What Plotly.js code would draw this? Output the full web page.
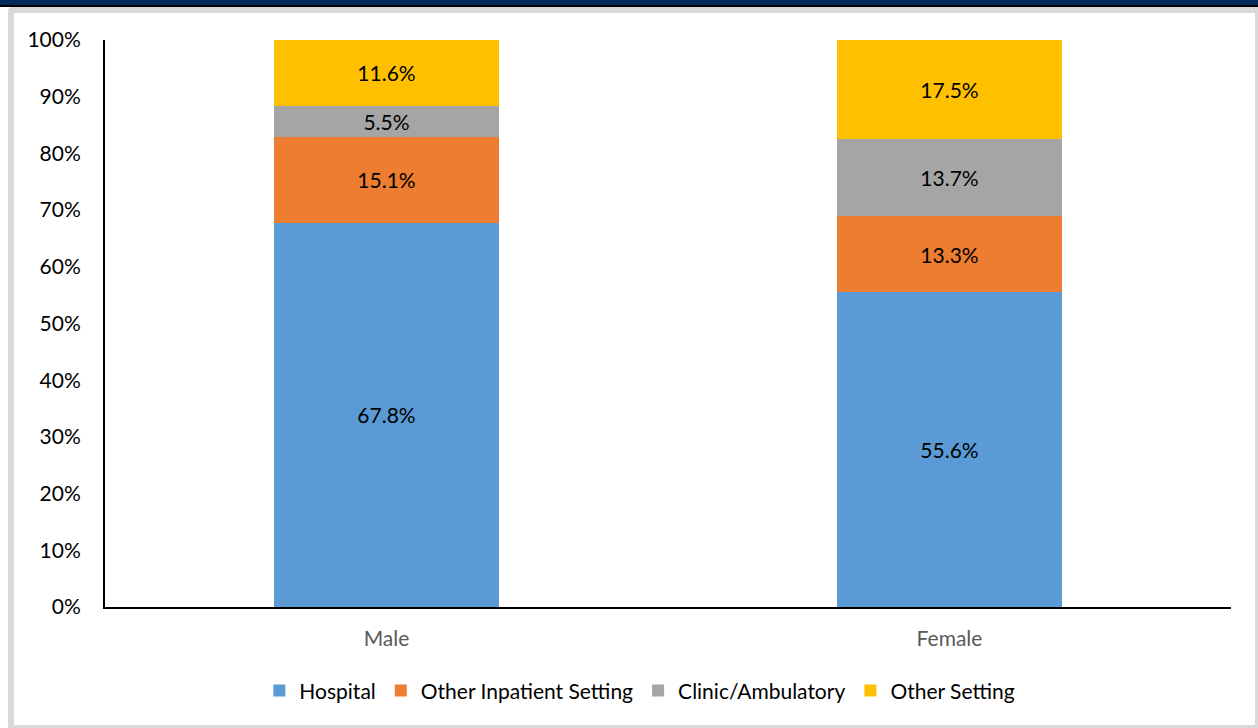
<!DOCTYPE html>
<html>
<head>
<meta charset="utf-8">
<script src="https://cdn.plot.ly/plotly-3.0.1.min.js"></script>
<style>
  html, body { margin: 0; padding: 0; width: 1258px; height: 728px; overflow: hidden; background: #ffffff; }
  #navy { position: absolute; left: 0; top: 0; width: 1258px; height: 5px; background: #002a5c; }
  #black { position: absolute; left: 0; top: 5px; width: 1258px; height: 2px; background: #000000; }
  #frame { position: absolute; left: 8px; top: 7px; width: 1250px; height: 721px; background: #d9d9d9; border-top-left-radius: 4px; }
  #chart { position: absolute; left: 14px; top: 13px; width: 1241px; height: 712px; background: #ffffff; }
</style>
</head>
<body>
<div id="navy"></div>
<div id="black"></div>
<div id="frame"></div>
<div id="chart"></div>
<script>
const categories = ["Male", "Female"];
const seriesNames = ["Hospital", "Other Inpatient Setting", "Clinic/Ambulatory", "Other Setting"];
const hospital = [67.8, 55.6];
const otherInpatient = [15.1, 13.3];
const clinic = [5.5, 13.7];
const otherSetting = [11.6, 17.5];
const yTickVals = [0, 10, 20, 30, 40, 50, 60, 70, 80, 90, 100];
const yTickText = ["0%", "10%", "20%", "30%", "40%", "50%", "60%", "70%", "80%", "90%", "100%"];

const colors = ["#5B9BD5", "#ED7D31", "#A5A5A5", "#FFC000"];
const allValues = [hospital, otherInpatient, clinic, otherSetting];
const FONT = "Lato, 'Open Sans', sans-serif";

const traces = allValues.map((vals, i) => ({
  type: "bar",
  name: seriesNames[i],
  x: categories,
  y: vals,
  marker: { color: colors[i], line: { width: 0 } },
  text: vals.map(v => v.toFixed(1) + "%"),
  textposition: "inside",
  insidetextanchor: "middle",
  constraintext: "none",
  textfont: { family: FONT, size: 21, color: "#000000" },
  hoverinfo: "skip"
}));

const layout = {
  barmode: "stack",
  bargap: 0.6,
  width: 1241,
  height: 712,
  margin: { l: 91, r: 24, t: 27, b: 118 },
  paper_bgcolor: "#ffffff",
  plot_bgcolor: "#ffffff",
  font: { family: FONT, size: 21, color: "#000000" },
  showlegend: true,
  legend: {
    orientation: "h",
    x: 0.475, xanchor: "center",
    y: -0.148, yanchor: "middle",
    font: { family: FONT, size: 21, color: "#000000" },
    itemwidth: 30,
    traceorder: "normal"
  },
  xaxis: {
    type: "category",
    range: [-0.5, 1.5],
    showline: true, linecolor: "#000000", linewidth: 2,
    showgrid: false, zeroline: false,
    ticks: "",
    tickfont: { family: FONT, size: 21, color: "#595959" },
    ticklabelstandoff: 12
  },
  yaxis: {
    range: [0, 100],
    tickvals: yTickVals,
    ticktext: yTickText,
    showline: true, linecolor: "#000000", linewidth: 2,
    showgrid: false, zeroline: false,
    ticks: "",
    tickfont: { family: FONT, size: 21, color: "#000000" },
    ticklabelstandoff: 18
  }
};

Plotly.newPlot("chart", traces, layout, { staticPlot: true, displayModeBar: false });
</script>
</body>
</html>
